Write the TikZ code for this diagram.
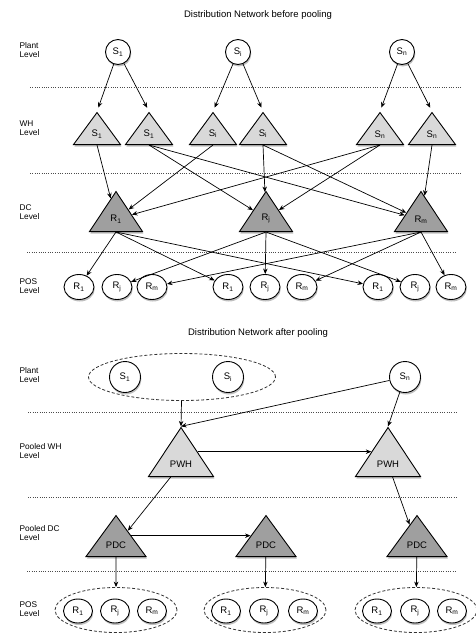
\documentclass[tikz,border=0pt]{standalone}
\usepackage{fontspec}
\setmainfont{Liberation Sans}
\usetikzlibrary{arrows.meta,shapes.geometric,shadows}

\begin{document}
\begin{tikzpicture}[x=1pt,y=-1pt,
font=\fontsize{9.5}{10.5}\selectfont,
>={Stealth[length=5.5pt,width=4.5pt]},
sha/.style={drop shadow={shadow xshift=0.8pt,shadow yshift=-2pt,opacity=0.5}},
plant/.style={circle,draw,line width=0.9pt,fill=white,minimum size=25pt,inner sep=0pt,sha},
wh/.style={isosceles triangle,isosceles triangle stretches,shape border rotate=90,
  draw,line width=0.9pt,fill=gray!30,minimum width=47pt,minimum height=32pt,inner sep=0pt,sha},
dc/.style={wh,fill=gray!75,minimum width=53pt,minimum height=40pt},
retail/.style={ellipse,draw,line width=0.9pt,fill=white,minimum width=30pt,minimum height=25pt,inner sep=0pt,sha},
pool/.style={ellipse,draw,line width=0.8pt,gray!40!black,dash pattern=on 3pt off 2pt,inner sep=0pt},
lvl/.style={align=left,anchor=west,font=\fontsize{8.3}{9.3}\selectfont},
sep/.style={line width=0.6pt,gray!60!black,dash pattern=on 0.7pt off 1.6pt},
link/.style={->,line width=0.7pt}]
\useasboundingbox (0,0) rectangle (476,635);

\node (title1) at (258,15) {Distribution Network before pooling};
\node[lvl] (lplant) at (16,50) {Plant\\Level};
\node[lvl] (lwh) at (16,128) {WH\\Level};
\node[lvl] (ldc) at (16,212) {DC\\Level};
\node[lvl] (lpos) at (16,286) {POS\\Level};
\draw[sep] (30,87) -- (462,87);
\draw[sep] (30,173) -- (462,173);
\draw[sep] (27,252) -- (456,252);

\node[plant] (s1) at (118,52) {S\textsubscript{1}};
\node[plant] (si) at (238,52) {S\textsubscript{i}};
\node[plant] (sn) at (402,52) {S\textsubscript{n}};

\node[wh,anchor=south] (w1) at (97,145) {S\textsubscript{1}};
\node[wh,anchor=south] (w2) at (149,145) {S\textsubscript{1}};
\node[wh,anchor=south] (w3) at (213,145) {S\textsubscript{i}};
\node[wh,anchor=south] (w4) at (263,145) {S\textsubscript{i}};
\node[wh,anchor=south] (w5) at (380,145) {S\textsubscript{n}};
\node[wh,anchor=south] (w6) at (432,145) {S\textsubscript{n}};

\node[dc,anchor=south] (d1) at (116,232) {R\textsubscript{1}};
\node[dc,anchor=south] (dj) at (266,232) {R\textsubscript{j}};
\node[dc,anchor=south] (dm) at (421,232) {R\textsubscript{m}};

\node[retail] (qa1) at (79,287) {R\textsubscript{1}};
\node[retail] (qaj) at (117,287) {R\textsubscript{j}};
\node[retail] (qam) at (152,287) {R\textsubscript{m}};
\node[retail] (qb1) at (228,287) {R\textsubscript{1}};
\node[retail] (qbj) at (265,287) {R\textsubscript{j}};
\node[retail] (qbm) at (302,287) {R\textsubscript{m}};
\node[retail] (qc1) at (378,287) {R\textsubscript{1}};
\node[retail] (qcj) at (415,287) {R\textsubscript{j}};
\node[retail] (qcm) at (451,287) {R\textsubscript{m}};

\draw[link,shorten >=4pt] (s1) -- (w1.north);
\draw[link,shorten >=4pt] (s1) -- (w2.north);
\draw[link,shorten >=4pt] (si) -- (w3.north);
\draw[link,shorten >=4pt] (si) -- (w4.north);
\draw[link,shorten >=4pt] (sn) -- (w5.north);
\draw[link,shorten >=4pt] (sn) -- (w6.north);

\draw[link] (w1.south) -- (d1);
\draw[link] (w2.south) -- (dj);
\draw[link] (w2.south) -- (dm);
\draw[link] (w3.south) -- (d1);
\draw[link] (w4.south) -- (dj);
\draw[link] (w4.south) -- (dm);
\draw[link] (w5.south) -- (d1);
\draw[link] (w5.south) -- (dj);
\draw[link] (w6.south) -- (dm);

\draw[link] (d1.south) -- (qa1);
\draw[link] (d1.south) -- (qb1);
\draw[link] (d1.south) -- (qc1);
\draw[link] (dj.south) -- (qaj);
\draw[link] (dj.south) -- (qbj);
\draw[link] (dj.south) -- (qcj);
\draw[link] (dm.south) -- (qam);
\draw[link] (dm.south) -- (qbm);
\draw[link] (dm.south) -- (qcm);

\node (title2) at (258,333) {Distribution Network after pooling};
\node[lvl] (lplant2) at (16,375) {Plant\\Level};
\node[lvl] (lpwh) at (16,451) {Pooled WH\\Level};
\node[lvl] (lpdc) at (16,533) {Pooled DC\\Level};
\node[lvl] (lpos2) at (16,609) {POS\\Level};
\draw[sep] (28,412) -- (458,412);
\draw[sep] (28,497) -- (458,497);
\draw[sep] (27,571) -- (456,571);

\node[pool,minimum width=187pt,minimum height=47pt] (pl) at (182,377) {};
\node[plant,minimum size=31pt] (t1) at (125,377) {S\textsubscript{1}};
\node[plant,minimum size=31pt] (ti) at (228,377) {S\textsubscript{i}};
\node[plant,minimum size=31pt] (tn) at (405,377) {S\textsubscript{n}};

\node[wh,minimum width=65pt,minimum height=49pt,anchor=south] (h1) at (181,477) {PWH};
\node[wh,minimum width=65pt,minimum height=49pt,anchor=south] (h2) at (388,477) {PWH};

\node[dc,minimum width=60pt,minimum height=41pt,anchor=south] (c1) at (116,557) {PDC};
\node[dc,minimum width=60pt,minimum height=41pt,anchor=south] (c2) at (266,557) {PDC};
\node[dc,minimum width=60pt,minimum height=41pt,anchor=south] (c3) at (417,557) {PDC};

\node[pool,minimum width=122pt,minimum height=45pt] (ga) at (116,610) {};
\node[pool,minimum width=122pt,minimum height=45pt] (gb) at (265,610) {};
\node[pool,minimum width=122pt,minimum height=45pt] (gc) at (416,610) {};

\node[retail,minimum width=29pt,minimum height=24pt] (ra1) at (78,611) {R\textsubscript{1}};
\node[retail,minimum width=29pt,minimum height=24pt] (raj) at (115,611) {R\textsubscript{j}};
\node[retail,minimum width=29pt,minimum height=24pt] (ram) at (152,611) {R\textsubscript{m}};
\node[retail,minimum width=29pt,minimum height=24pt] (rb1) at (226,611) {R\textsubscript{1}};
\node[retail,minimum width=29pt,minimum height=24pt] (rbj) at (264,611) {R\textsubscript{j}};
\node[retail,minimum width=29pt,minimum height=24pt] (rbm) at (303,611) {R\textsubscript{m}};
\node[retail,minimum width=29pt,minimum height=24pt] (rc1) at (377,611) {R\textsubscript{1}};
\node[retail,minimum width=29pt,minimum height=24pt] (rcj) at (415,611) {R\textsubscript{j}};
\node[retail,minimum width=29pt,minimum height=24pt] (rcm) at (452,611) {R\textsubscript{m}};

\draw[link] (pl) -- (h1.apex);
\draw[link] (tn) -- (h1.apex);
\draw[link] (tn) -- (h2.apex);
\draw[link] (h1.right side) -- (h2.left side);
\draw[link] (h1) -- (c1);
\draw[link] (h2) -- (c3);
\draw[link] (c1.right side) -- (c2.left side);
\draw[link] (c1) -- (ga);
\draw[link] (c2) -- (gb);
\draw[link] (c3) -- (gc);
\end{tikzpicture}
\end{document}
